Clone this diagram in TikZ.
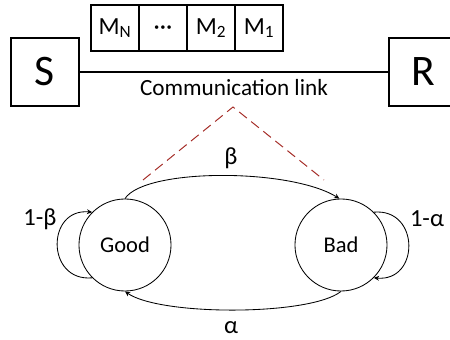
\documentclass[tikz,border=0pt]{standalone}
\usepackage{fontspec}
\setmainfont{Carlito}
\usetikzlibrary{arrows.meta}
\definecolor{linkred}{RGB}{165,45,40}

\begin{document}
\begin{tikzpicture}[x=0.025cm, y=-0.025cm,
  endbox/.style={draw, line width=0.8pt, minimum width=1.7cm, minimum height=1.7cm, inner sep=0pt, font=\fontsize{31}{31}\selectfont},
  msgcell/.style={draw, line width=0.8pt, minimum width=1.2cm, minimum height=1.15cm, inner sep=0pt, text height=11pt, text depth=2pt, font=\fontsize{17.5}{18}\selectfont},
  statenode/.style={draw, circle, line width=0.6pt, minimum size=2.3cm, inner sep=0pt, font=\fontsize{16}{16}\selectfont},
  lbl/.style={font=\fontsize{17.5}{18}\selectfont},
  trans/.style={-{Stealth[length=1.3mm, width=1.2mm]}, line width=0.6pt},
  linkdash/.style={linkred, line width=0.7pt, dash pattern=on 7pt off 4pt}]
\useasboundingbox (0,0) rectangle (450,340);
\node[endbox] (S) at (45,72) {S};
\node[endbox] (R) at (423,72) {R};
\node[msgcell] (mN) at (115,28) {M\textsubscript{N}};
\node[msgcell] (mdots) at (163,28) {\textperiodcentered\textperiodcentered\textperiodcentered};
\node[msgcell] (m2) at (211,28) {M\textsubscript{2}};
\node[msgcell] (m1) at (259,28) {M\textsubscript{1}};
% Link
\draw[line width=0.8pt] (S) -- (R);
\node[lbl, font=\fontsize{16.5}{17}\selectfont] (link) at (234,88) {Communication link};
% Channel model
\coordinate (apex) at (233,107);
\coordinate (dl) at (143,180);
\coordinate (dr) at (324,180);
\draw[linkdash] (dl) -- (apex) -- (dr);
\node[statenode] (good) at (125,245) {Good};
\node[statenode] (bad) at (341,245) {Bad};
\draw[trans] (good.north) .. controls (145,168) and (290,168) .. (bad.92);
\draw[trans] (bad.south) .. controls (310,316) and (160,316) .. (good.south);
\draw[trans] (good.225) .. controls (46,282) and (46,208) .. (good.135);
\draw[trans] (bad.45) .. controls (420,208) and (420,282) .. (bad.315);
\node[lbl] (lb) at (231,158) {β};
\node[lbl] (la) at (231,328) {α};
\node[lbl] (lgg) at (40,219) {1-β};
\node[lbl] (lbb) at (427,219) {1-α};
\end{tikzpicture}
\end{document}
